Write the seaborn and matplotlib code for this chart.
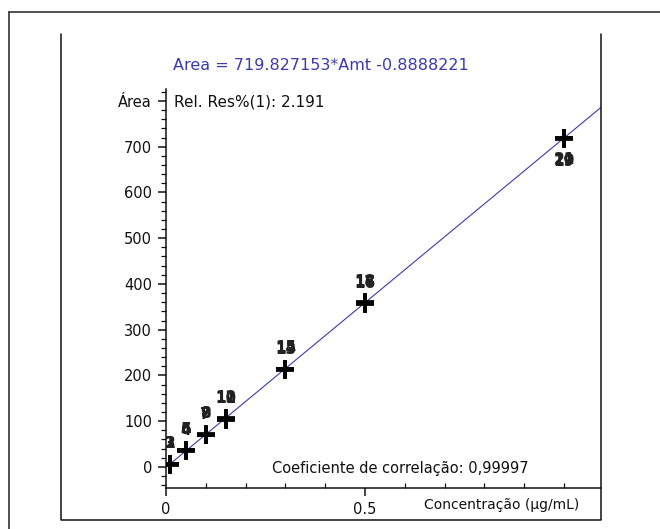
import numpy as np
import pandas as pd
import seaborn as sns
import matplotlib.pyplot as plt
from matplotlib.lines import Line2D
from matplotlib.ticker import MultipleLocator, FixedLocator

# Calibration data (3 injections per level)
levels = [0.01, 0.05, 0.10, 0.15, 0.30, 0.50, 1.00]
areas = [
    [5.2, 6.0, 6.8],
    [34.5, 36.0, 37.0],
    [69.0, 70.5, 71.5],
    [103.0, 105.0, 106.5],
    [211.0, 213.0, 215.0],
    [356.0, 358.0, 360.0],
    [716.0, 718.0, 720.0],
]
slope = 719.827153
intercept = -0.8888221
rel_res = "2.191"
corr = "0,99997"
y_tick_labels = ["0", "100", "200", "300", "400", "500", "600", "700", "Área"]

rows = []
inj = 1
for lv, reps in zip(levels, areas):
    for a in reps:
        rows.append({"conc": lv, "area": a, "inj": inj})
        inj += 1
df = pd.DataFrame(rows)

sns.set_theme(style="white")
plt.rcParams["font.family"] = ["DejaVu Sans"]

W, H = 660, 529
fig = plt.figure(figsize=(W / 100, H / 100), dpi=100)
fig.patch.set_facecolor("white")

def fx(px): return px / W
def fy(py): return 1 - py / H

ax = fig.add_axes([fx(166), fy(488), fx(601) - fx(166), fy(89) - fy(488)])
ax.set_facecolor("white")

blue = "#3b3bab"
ax.axline((0, intercept), slope=slope, color=blue, lw=0.8, zorder=1)

sns.scatterplot(data=df, x="conc", y="area", marker="+", s=180, color="black",
                linewidth=2.7, ax=ax, zorder=3, legend=False)

# injection numbers (replicates overlap like in the instrument report)
for _, r in df.iterrows():
    dy = -16 if r["conc"] == levels[-1] else 15
    ax.annotate(str(int(r["inj"])), (r["conc"], r["area"]), xytext=(0, dy),
                textcoords="offset points", ha="center", va="center",
                fontsize=11, fontweight="bold", color="#222222", zorder=4)

ax.set_xlim(0, 1.093)
ax.set_ylim(-46, 826)

for s in ["top", "right"]:
    ax.spines[s].set_visible(False)
for s in ["left", "bottom"]:
    ax.spines[s].set_color("#111111")
    ax.spines[s].set_linewidth(1.1)

ax.yaxis.set_major_locator(FixedLocator(list(range(0, 801, 100))))
ax.set_yticklabels(y_tick_labels)
ax.yaxis.set_minor_locator(MultipleLocator(20))
ax.xaxis.set_major_locator(FixedLocator([0, 0.5]))
ax.set_xticklabels(["0", "0.5"])
ax.xaxis.set_minor_locator(MultipleLocator(0.1))

ax.tick_params(axis="y", which="major", direction="out", length=6, width=1.1,
               pad=4, labelsize=10.5, colors="#111111", left=True)
ax.tick_params(axis="y", which="minor", direction="out", length=3.5, width=0.9,
               color="#111111", left=True)
ax.tick_params(axis="x", which="major", direction="out", length=6, width=1.1,
               pad=4, labelsize=10.5, colors="#111111", bottom=True)
ax.tick_params(axis="x", which="minor", direction="in", length=3.5, width=0.9,
               color="#111111", bottom=True)

ax.set_ylabel("")
ax.set_xlabel("Concentração (µg/mL)", fontsize=10, color="#111111", va="center")
ax.xaxis.set_label_coords((502 - 166) / 435, -0.0426)

ax.text(0.018, 0.968, f"Rel. Res%(1): {rel_res}", transform=ax.transAxes,
        ha="left", va="center", fontsize=11, color="#111111")
ax.text(0.2437, 0.050, f"Coeficiente de correlação: {corr}", transform=ax.transAxes,
        ha="left", va="center", fontsize=10.5, color="#111111")
ax.text(0.016, 1.060, f"Area = {slope:.6f}*Amt {intercept:.7f}", transform=ax.transAxes,
        ha="left", va="center", fontsize=11.5, color=blue)

# frames around the panel
def fline(xs, ys, lw=1.2, c="#333333"):
    fig.add_artist(Line2D([fx(x) for x in xs], [fy(y) for y in ys], lw=lw, color=c))

fline([9, 660], [12, 12])
fline([9, 9], [12, 529])
fline([61, 61, 601, 601], [34, 520, 520, 34], lw=1.1, c="#111111")

fig.savefig("out.png", dpi=100)
